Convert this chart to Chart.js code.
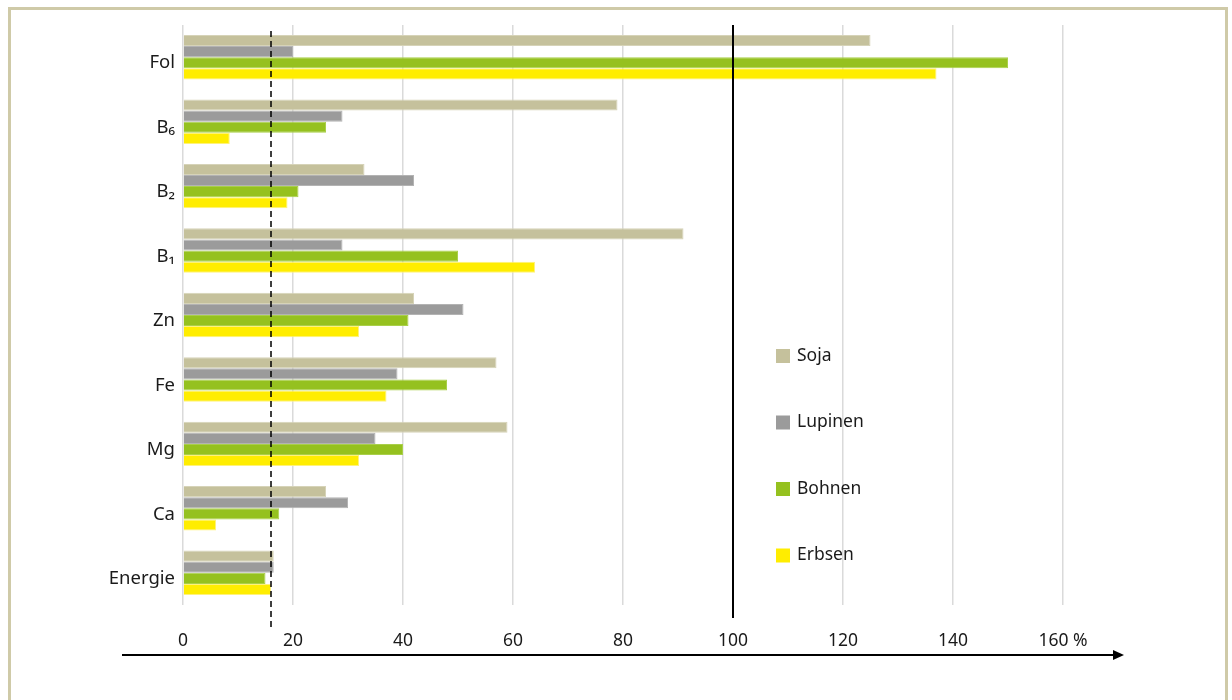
<!DOCTYPE html>
<html>
<head>
<meta charset="utf-8">
<script src="https://cdn.jsdelivr.net/npm/chart.js@4"></script>
<style>
  html, body { margin: 0; padding: 0; background: #fff; overflow: hidden; }
  #frame {
    position: absolute; left: 8px; top: 7px; width: 1220px; height: 720px;
    border: 3px solid #cfcaa8; box-sizing: border-box;
  }
  #wrap { position: absolute; left: 0; top: 0; width: 1232px; height: 700px; }
</style>
</head>
<body>
<div id="frame"></div>
<div id="wrap"><canvas id="myChart" width="1232" height="700"></canvas></div>
<script>
// Naehrstoffe (categories, top to bottom)
const categories = ["Fol", "B₆", "B₂", "B₁", "Zn", "Fe", "Mg", "Ca", "Energie"];

// Anteil am Tagesbedarf in %
const soja    = [125, 79, 33, 91, 42, 57, 59, 26, 16.5];
const lupinen = [20, 29, 42, 29, 51, 39, 35, 30, 16.5];
const bohnen  = [150, 26, 21, 50, 41, 48, 40, 17.5, 15];
const erbsen  = [137, 8.5, 19, 64, 32, 37, 32, 6, 16];

const seriesNames = ["Soja", "Lupinen", "Bohnen", "Erbsen"];
const seriesColors = ["#c5c19c", "#9b9b9b", "#95c11f", "#ffed00"];
const seriesBorders = ["#d6d3b8", "#b3b3b3", "#a9cf4a", "#fff27a"];

const xTicks = [0, 20, 40, 60, 80, 100, 120, 140, 160];
const refLine = 100;   // 100 % Bedarf
const dashLine = 16;   // gestrichelte Linie

const FONT = "'Noto Sans', 'Open Sans', sans-serif";

// draws reference lines, the arrow axis and the legend
const extras = {
    id: "extras",
    afterDatasetsDraw(chart) {
        const { ctx, chartArea, scales } = chart;
        const x = scales.x;
        ctx.save();

        // solid 100 % line
        const x100 = x.getPixelForValue(refLine);
        ctx.strokeStyle = "#000";
        ctx.lineWidth = 2;
        ctx.beginPath();
        ctx.moveTo(x100, chartArea.top);
        ctx.lineTo(x100, chartArea.bottom + 13);
        ctx.stroke();

        // dashed line
        const xd = x.getPixelForValue(dashLine);
        ctx.lineWidth = 1.5;
        ctx.setLineDash([6, 4]);
        ctx.beginPath();
        ctx.moveTo(xd, chartArea.top + 6);
        ctx.lineTo(xd, chartArea.bottom + 23);
        ctx.stroke();
        ctx.setLineDash([]);

        // arrow axis
        const ay = 655;
        ctx.lineWidth = 2;
        ctx.beginPath();
        ctx.moveTo(122, ay);
        ctx.lineTo(1116, ay);
        ctx.stroke();
        ctx.fillStyle = "#000";
        ctx.beginPath();
        ctx.moveTo(1124, ay);
        ctx.lineTo(1113, ay - 5);
        ctx.lineTo(1113, ay + 5);
        ctx.closePath();
        ctx.fill();

        // legend
        const lx = 776, ly0 = 356, gap = 66.5;
        ctx.font = "17.5px " + FONT;
        ctx.textBaseline = "middle";
        chart.data.datasets.forEach((ds, i) => {
            const y = ly0 + i * gap;
            ctx.fillStyle = ds.backgroundColor;
            ctx.fillRect(lx, y - 7, 14, 14);
            ctx.fillStyle = "#1a1a1a";
            ctx.fillText(ds.label, lx + 21, y);
        });
        ctx.restore();
    }
};

const ctx = document.getElementById("myChart").getContext("2d");
const dataSets = [soja, lupinen, bohnen, erbsen].map((values, i) => ({
    label: seriesNames[i],
    data: values,
    backgroundColor: seriesColors[i],
    borderColor: seriesBorders[i],
    borderWidth: 1,
    barPercentage: 1,
    categoryPercentage: 0.69
}));

const myChart = new Chart(ctx, {
    type: "bar",
    data: { labels: categories, datasets: dataSets },
    plugins: [extras],
    options: {
        indexAxis: "y",
        responsive: false,
        animation: false,
        layout: { padding: { top: 25, right: 169, left: 0, bottom: 0 } },
        plugins: {
            legend: { display: false },
            tooltip: { enabled: false }
        },
        scales: {
            x: {
                min: 0,
                max: 160,
                afterBuildTicks: (scale) => {
                    scale.ticks = xTicks.map((v) => ({ value: v }));
                },
                afterFit: (scale) => { scale.height = 95; },
                ticks: {
                    padding: 26,
                    color: "#1a1a1a",
                    font: { family: FONT, size: 17.5 },
                    callback: (v) => (v === 160 ? "160 %" : String(v))
                },
                grid: {
                    color: "#dadada",
                    lineWidth: 1.5,
                    drawTicks: false
                },
                border: { display: false }
            },
            y: {
                afterFit: (scale) => { scale.width = 183; },
                ticks: {
                    padding: 8,
                    labelOffset: 6,
                    color: "#1a1a1a",
                    font: { family: FONT, size: 18.5 }
                },
                grid: { display: false, drawTicks: false },
                border: { display: false }
            }
        }
    }
});
</script>
</body>
</html>
